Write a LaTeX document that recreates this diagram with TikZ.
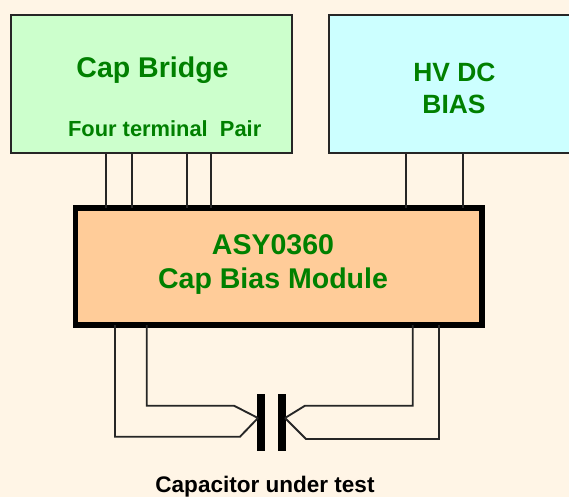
\documentclass[tikz,border=0pt]{standalone}
\usepackage{fontspec}
\setmainfont{Liberation Sans}
\definecolor{paper}{HTML}{FFF5E6}
\definecolor{bridgegreen}{HTML}{CCFFCC}
\definecolor{biascyan}{HTML}{CCFFFF}
\definecolor{moduleorange}{HTML}{FFCC99}
\definecolor{labelgreen}{HTML}{008000}

\begin{document}
\begin{tikzpicture}[x=0.75pt, y=-0.75pt]
                \tikzstyle{box} = [draw=black!85, line width=1.5pt, outer sep=0pt, inner sep=0pt]
                \tikzstyle{wire} = [draw=black!85, line width=1.4pt, line join=miter]
                \tikzstyle{plate} = [fill=black, outer sep=0pt, inner sep=0pt, minimum width=6pt, minimum height=42.75pt]
                \tikzstyle{big} = [text=labelgreen, font=\bfseries\fontsize{21.4}{24}\selectfont, anchor=base]
                \tikzstyle{mid} = [text=labelgreen, font=\bfseries\fontsize{19.8}{24}\selectfont, anchor=base]
                \path[use as bounding box, fill=paper] (0, 0) rectangle (569, 497);
                % boxes
                \node[box, fill=bridgegreen, minimum width=210.75pt, minimum height=103.5pt] (bridge) at (151.5, 84) {};
                \node[box, fill=biascyan, minimum width=187.5pt, minimum height=103.5pt] (bias) at (454, 84) {};
                \node[box, draw=black, fill=moduleorange, line width=4.2pt, minimum width=305pt, minimum height=87.75pt] (module) at (278.75, 266.5) {};
                \node[plate] (plateL) at (260.7, 422.5) {};
                \node[plate] (plateR) at (282, 422.5) {};
                % labels
                \node[big] (bridgename) at (152.5, 77) {Cap Bridge};
                \node[text=labelgreen, font=\bfseries\fontsize{16.4}{20}\selectfont, anchor=base] (pairname) at (164.7, 136.7) {Four terminal\ \ Pair};
                \node[mid] (hvname) at (454.5, 81) {HV DC};
                \node[mid] (biasname) at (454, 113) {BIAS};
                \node[big] (modulepart) at (273, 254) {ASY0360};
                \node[big] (modulename) at (273, 288) {Cap Bias Module};
                \node[font=\bfseries\fontsize{16.9}{20}\selectfont, anchor=base] (dutname) at (265, 492) {Capacitor under test};
                % wire positions
                \coordinate (b1) at (106, 153);
                \coordinate (b2) at (132, 153);
                \coordinate (b3) at (187, 153);
                \coordinate (b4) at (211, 153);
                \coordinate (h1) at (405.7, 153);
                \coordinate (h2) at (462.7, 153);
                \coordinate (outerL) at (115, 436.7);
                \coordinate (innerL) at (146.7, 405.7);
                \coordinate (innerR) at (412.7, 405.7);
                \coordinate (outerR) at (439, 439);
                \coordinate (leadL) at (258, 418);
                \coordinate (leadR) at (285, 418);
                \foreach \p in {b1, b2, b3, b4} {
                    \draw[wire] (\p |- bridge.south) -- (\p |- module.north);
                }
                \foreach \p in {h1, h2} {
                    \draw[wire] (\p |- bias.south) -- (\p |- module.north);
                }
                % capacitor leads
                \draw[wire] (outerL |- module.south) -- (outerL) -- (240, 436.7) -- (leadL);
                \draw[wire] (innerL |- module.south) -- (innerL) -- (234, 405.7) -- (leadL);
                \draw[wire] (innerR |- module.south) -- (innerR) -- (305, 405.7) -- (leadR);
                \draw[wire] (outerR |- module.south) -- (outerR) -- (306, 439) -- (leadR);
            \end{tikzpicture}
\end{document}
